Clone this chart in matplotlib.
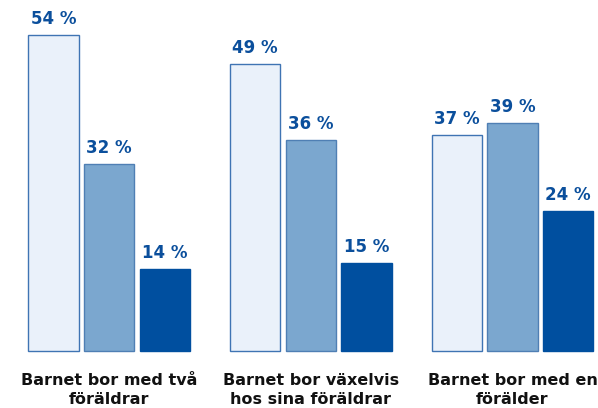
import matplotlib
matplotlib.use('Agg')
import matplotlib.pyplot as plt
import numpy as np

categories = ['Barnet bor med två\nföräldrar',
              'Barnet bor växelvis\nhos sina föräldrar',
              'Barnet bor med en\nförälder']
series_a = [54, 49, 37]
series_b = [32, 36, 39]
series_c = [14, 15, 24]

fills = ['#eaf1fa', '#7ba7cf', '#004f9f']
edges = ['#3f74b3', '#4f7fb4', '#004f9f']
label_color = '#0b4f9c'

fig = plt.figure(figsize=(5.98, 4.08), dpi=100)
ax = fig.add_axes([29 / 598, 57 / 408, 564 / 598, 351 / 408])

x = np.arange(len(categories))
width = 0.25
pitch = 0.276

for i, vals in enumerate([series_a, series_b, series_c]):
    bars = ax.bar(x + (i - 1) * pitch, vals, width, color=fills[i],
                  edgecolor=edges[i], linewidth=1.0, clip_on=False)
    for b, v in zip(bars, vals):
        ax.annotate(f'{v} %', (b.get_x() + b.get_width() / 2, b.get_height()),
                    xytext=(0, 5), textcoords='offset points',
                    ha='center', va='bottom', fontsize=12,
                    fontweight='bold', color=label_color)

ax.set_xlim(-0.397, 2.399)
ax.set_ylim(0, 60)
ax.set_yticks([])
ax.set_xticks(x, categories, fontsize=11.5, fontweight='bold', color='#111111',
              linespacing=1.3)
ax.tick_params(axis='x', length=0, pad=16)
for s in ax.spines.values():
    s.set_visible(False)

fig.savefig('out.png', dpi=100)
